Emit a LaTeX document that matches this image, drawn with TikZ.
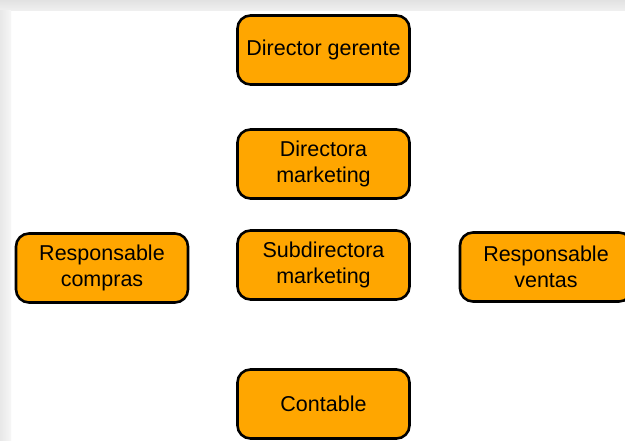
\documentclass[tikz,border=0pt]{standalone}
\usepackage{fontspec}
\setmainfont{Liberation Sans}
\definecolor{boxfill}{RGB}{255,166,0}
\definecolor{frameshade}{RGB}{226,226,226}

\begin{document}
\begin{tikzpicture}[
  x=1pt, y=-1pt,
  font=\fontsize{21.5}{26}\selectfont,
  role/.style={                             % position in the chart: orange rounded box
    draw=black, line width=2.6pt, fill=boxfill,
    rectangle, rounded corners=13pt,
    minimum width=172pt, minimum height=69pt,
    align=center, inner sep=2pt
  },
]
\useasboundingbox (0,0) rectangle (625,441);

% ---- Window frame ----
\fill[white] (0,0) rectangle (625,441);
\shade[top color=frameshade, bottom color=frameshade!50] (0,0) rectangle (625,11);
\shade[left color=frameshade!80, right color=frameshade!30] (0,11) rectangle (11,441);

% ---- Nodes ----
\node (dirgerente)  at (323.5, 50)  [role] {Director gerente};
\node (dirmarket)   at (323.5,164)  [role] {Directora\\marketing};
\node (subdirmark)  at (323.5,265)  [role] {Subdirectora\\marketing};
\node (respcompras) at (102,  268)  [role] {Responsable\\compras};
\node (respventas)  at (546,  267)  [role] {Responsable\\ventas};
\node (contable)    at (323.5,404)  [role] {Contable};

\end{tikzpicture}
\end{document}
